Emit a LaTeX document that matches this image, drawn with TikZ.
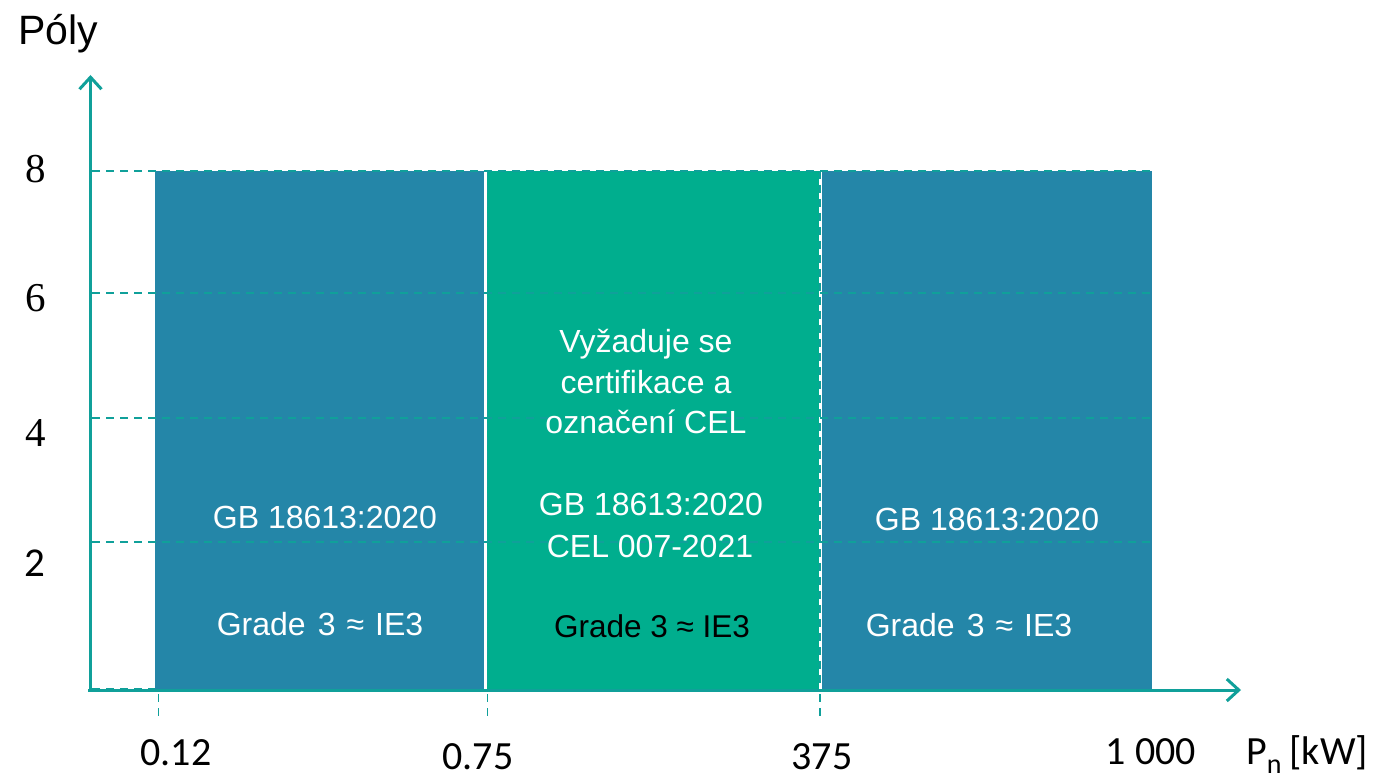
\documentclass[tikz,border=0pt]{standalone}
\usepackage{fontspec}
\setmainfont{Liberation Sans}
\newfontfamily\serifnum{Liberation Serif}
\newfontfamily\calib{Carlito}
\usetikzlibrary{arrows.meta}
\definecolor{boxblue}{HTML}{2486A8}
\definecolor{boxgreen}{HTML}{00AE8E}
\definecolor{axisteal}{HTML}{10A09A}
\tikzset{
  axisline/.style={draw=axisteal, line width=3pt, -{Straight Barb[length=12pt,width=22pt]}},
  gridline/.style={draw=axisteal, line width=1.8pt, dash pattern=on 8pt off 6pt},
  sepline/.style={draw=axisteal, line width=1.3pt, dash pattern=on 8pt off 6pt},
  boxtext/.style={text=white, inner sep=0pt, anchor=base, font=\fontsize{32}{38}\selectfont},
  ylab/.style={inner sep=0pt, anchor=base, font=\serifnum\fontsize{41}{46}\selectfont},
  xlab/.style={inner sep=0pt, anchor=base, font=\calib\fontsize{40}{46}\selectfont},
}
\newcommand{\gradewide}{Grade\hspace{12pt}3\hspace{11pt}≈\hspace{11pt}IE3}
\begin{document}
\begin{tikzpicture}[x=1pt,y=-1pt]
\useasboundingbox (0,0) rectangle (1373,778);
% boxes
\fill[boxblue] (155,171) rectangle (484,690);
\fill[boxgreen] (486.5,171) rectangle (818.5,690);
\fill[boxblue] (821.5,171) rectangle (1152,690);
% horizontal grid lines
\draw[gridline] (92,171) -- (1152,171);
\draw[gridline] (92,293) -- (1152,293);
\draw[gridline] (92,418) -- (1152,418);
\draw[gridline] (92,542) -- (1152,542);
\draw[gridline] (92,689) -- (155,689);
% vertical separators
\draw[sepline] (487.8,171) -- (487.8,690);
\draw[sepline] (820,171) -- (820,690);
% ticks below axis
\draw[gridline] (158.5,694) -- (158.5,718);
\draw[gridline] (487.5,694) -- (487.5,716);
\draw[gridline] (820,694) -- (820,716);
% axes
\coordinate (O) at (90.5,690);
\coordinate (ytip) at (90.5,75);
\coordinate (xstart) at (88,690);
\coordinate (xtip) at (1241,690);
\draw[axisline] (90.5,691.5) -- (ytip);
\draw[axisline] (xstart) -- (xtip);
% axis titles
\node[inner sep=0pt, anchor=base west, font=\fontsize{41}{48}\selectfont] (poly) at (18,45) {Póly};
\node[inner sep=0pt, anchor=base west, font=\calib\fontsize{40}{46}\selectfont] (pn) at (1246,764) {P\raisebox{-9pt}{\fontsize{28}{28}\selectfont n}\hspace{8pt}[kW]};
% y labels
\node[ylab] (y8) at (36,183) {8};
\node[ylab] (y6) at (36,311) {6};
\node[ylab] (y4) at (36,446) {4};
\node[inner sep=0pt, anchor=base, font=\calib\fontsize{41}{46}\selectfont] (y2) at (35,576) {2};
% x labels
\node[xlab] (x012) at (176,765) {0.12};
\node[xlab] (x075) at (478,769) {0.75};
\node[xlab] (x375) at (822,769) {375};
\node[xlab] (x1000) at (1151,764) {1 000};
% box 1 text
\node[boxtext] (b1a) at (325,528) {GB 18613:2020};
\node[boxtext] (b1b) at (320,635) {\gradewide};
% box 2 text
\node[boxtext] (b2a) at (646,352) {Vyžaduje se};
\node[boxtext] (b2b) at (646,393) {certifikace a};
\node[boxtext] (b2c) at (646,433) {označení CEL};
\node[boxtext] (b2d) at (651,515) {GB 18613:2020};
\node[boxtext] (b2e) at (650,557) {CEL 007-2021};
\node[boxtext, text=black, font=\fontsize{31.5}{36}\selectfont] (b2f) at (652,637) {Grade 3 ≈ IE3};
% box 3 text
\node[boxtext] (b3a) at (987,530) {GB 18613:2020};
\node[boxtext] (b3b) at (969,636) {\gradewide};
\end{tikzpicture}
\end{document}
